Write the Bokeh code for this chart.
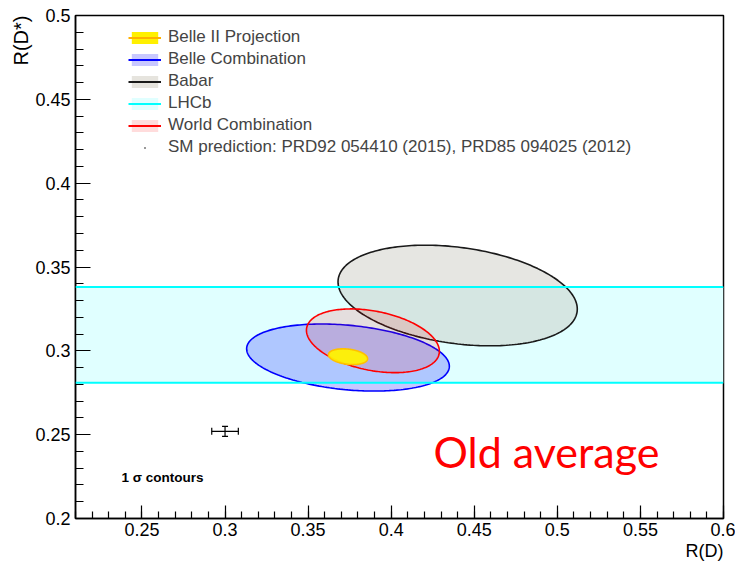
import numpy as np
from math import pi
from bokeh.plotting import figure
from bokeh.models import (FixedTicker, Label, Span, BoxAnnotation, Legend, LegendItem,
                          Whisker, ColumnDataSource, TeeHead, Title)
from bokeh.embed import file_html
from bokeh.resources import INLINE

# ---------------- data ----------------
names = ["Babar", "Belle Combination", "World Combination", "Belle II Projection"]
rd = [0.440, 0.374, 0.389, 0.374]          # R(D) central values
rds = [0.333, 0.296, 0.306, 0.2965]        # R(D*) central values
sig_rd = [0.072, 0.061, 0.040, 0.0118]     # 1 sigma on R(D)
sig_rds = [0.030, 0.020, 0.019, 0.0047]    # 1 sigma on R(D*)
rho = [-0.27, -0.26, -0.33, -0.25]         # correlation

lhcb_rds = 0.3095
lhcb_err = 0.0285

sm_rd, sm_rd_err = 0.300, 0.008
sm_rds, sm_rds_err = 0.252, 0.003

x_ticks = [0.25, 0.3, 0.35, 0.4, 0.45, 0.5, 0.55, 0.6]
x_tick_labels = ["0.25", "0.3", "0.35", "0.4", "0.45", "0.5", "0.55", "0.6"]
y_ticks = [0.2, 0.25, 0.3, 0.35, 0.4, 0.45, 0.5]
y_tick_labels = ["0.2", "0.25", "0.3", "0.35", "0.4", "0.45", "0.5"]

leg_names = ["Belle II Projection", "Belle Combination", "Babar", "LHCb", "World Combination"]
sm_label = "SM prediction: PRD92 054410 (2015), PRD85 094025 (2012)"

# styles
fills = ["#c8c8be", "#0000ff", "#ff0000", "#fff200"]
fill_alphas = [0.45, 0.22, 0.13, 0.95]
lines = ["#1a1a1a", "#0000ff", "#ff0000", "#ffc000"]
leg_fill = ["#fff000", "#c8c8ff", "#e6e4de", "#e0ffff", "#ffdcdc"]
leg_line = ["#ffb000", "#0000ff", "#1a1a1a", "#00ffff", "#ff0000"]

FONT = "Liberation Sans"

p = figure(width=735, height=562, x_range=(0.21, 0.6), y_range=(0.2, 0.5),
           output_backend="svg", toolbar_location=None,
           min_border_left=75, min_border_right=12, min_border_top=15, min_border_bottom=44)
p.xgrid.visible = False
p.ygrid.visible = False
p.outline_line_color = "black"
p.outline_line_width = 1.5
p.background_fill_color = "white"

# LHCb band
band = BoxAnnotation(bottom=lhcb_rds - lhcb_err, top=lhcb_rds + lhcb_err,
                     fill_color="#e0ffff", fill_alpha=1.0, line_alpha=0, level="underlay")
p.add_layout(band)
for yv in (lhcb_rds - lhcb_err, lhcb_rds + lhcb_err):
    p.add_layout(Span(location=yv, dimension="width", line_color="#00ffff", line_width=2))

# ellipses
t = np.linspace(0, 2 * pi, 241)
for i in range(len(names)):
    ex = rd[i] + sig_rd[i] * np.cos(t)
    ey = rds[i] + sig_rds[i] * (rho[i] * np.cos(t) + np.sqrt(1 - rho[i] ** 2) * np.sin(t))
    p.patch(ex, ey, fill_color=fills[i], fill_alpha=fill_alphas[i],
            line_color=lines[i], line_width=1.6)

# SM prediction
sm_src = ColumnDataSource(dict(x=[sm_rd], y=[sm_rds],
                               xl=[sm_rd - sm_rd_err], xu=[sm_rd + sm_rd_err],
                               yl=[sm_rds - sm_rds_err], yu=[sm_rds + sm_rds_err]))
p.add_layout(Whisker(source=sm_src, base="y", lower="xl", upper="xu", dimension="width",
                     line_color="black", line_width=1.2, level="annotation",
                     upper_head=TeeHead(size=7, line_color="black", line_width=1.2),
                     lower_head=TeeHead(size=7, line_color="black", line_width=1.2)))
p.add_layout(Whisker(source=sm_src, base="x", lower="yl", upper="yu", dimension="height",
                     line_color="black", line_width=1.2, level="annotation",
                     upper_head=TeeHead(size=6, line_color="black", line_width=1.2),
                     lower_head=TeeHead(size=6, line_color="black", line_width=1.2)))
sm_r = p.scatter(x="x", y="y", source=sm_src, size=4, marker="dot", color="black",
                 line_width=1.5)

# legend: zero-size proxy glyphs at the SM point (invisible in the plot)
items = []
for nm, fc, lc in zip(leg_names, leg_fill, leg_line):
    rf = p.rect(x=[sm_rd], y=[sm_rds], width=0, height=0, fill_color=fc, line_alpha=0)
    rl = p.line(x=[sm_rd, sm_rd], y=[sm_rds, sm_rds], line_color=lc, line_width=1.8)
    items.append(LegendItem(label=nm, renderers=[rf, rl]))
items.append(LegendItem(label=sm_label, renderers=[sm_r]))

legend = Legend(items=items, location=(53, 361), padding=0, margin=0,
                glyph_width=33, glyph_height=15, label_height=15, spacing=2,
                label_standoff=7, label_text_font=FONT, label_text_font_size="17px",
                border_line_alpha=0, background_fill_alpha=0)
p.add_layout(legend)

# axes
p.xaxis.ticker = FixedTicker(ticks=x_ticks,
                             minor_ticks=list(np.round(np.arange(0.21, 0.6001, 0.01), 2)))
p.yaxis.ticker = FixedTicker(ticks=y_ticks,
                             minor_ticks=list(np.round(np.arange(0.2, 0.5001, 0.01), 2)))
p.xaxis.major_label_overrides = dict(zip(x_ticks, x_tick_labels))
p.yaxis.major_label_overrides = dict(zip(y_ticks, y_tick_labels))
for ax in (p.xaxis[0], p.yaxis[0]):
    ax.major_tick_out = 0
    ax.minor_tick_out = 0
    ax.major_label_text_font = FONT
    ax.major_label_text_font_size = "18px"
    ax.major_label_text_color = "black"
    ax.axis_line_width = 1.5
    ax.major_tick_line_width = 1.2
    ax.minor_tick_line_width = 1.2
p.xaxis.major_tick_in = 13
p.xaxis.minor_tick_in = 7
p.yaxis.major_tick_in = 15
p.yaxis.minor_tick_in = 8
p.xaxis.major_label_standoff = 4
p.yaxis.major_label_standoff = 5

# axis titles (ROOT style: aligned to the axis end)
p.add_layout(Title(text="R(D)", align="right", text_font=FONT, text_font_size="18px",
                   text_font_style="normal", text_color="black", standoff=0), "below")
p.add_layout(Title(text="R(D*)", align="right", text_font=FONT, text_font_size="20px",
                   text_font_style="normal", text_color="black", standoff=2), "left")

# annotations
p.add_layout(Label(x=0.2377, y=0.2245, text="1 σ contours", text_font=FONT,
                   text_font_size="13.5px", text_font_style="bold", text_color="black",
                   text_baseline="alphabetic"))
p.add_layout(Label(x=0.4255, y=0.2399, text="Old average", text_font="Lato",
                   text_font_size="43px", text_color="#ff0000", text_baseline="alphabetic"))

open("out.html", "w").write(file_html(p, INLINE))
